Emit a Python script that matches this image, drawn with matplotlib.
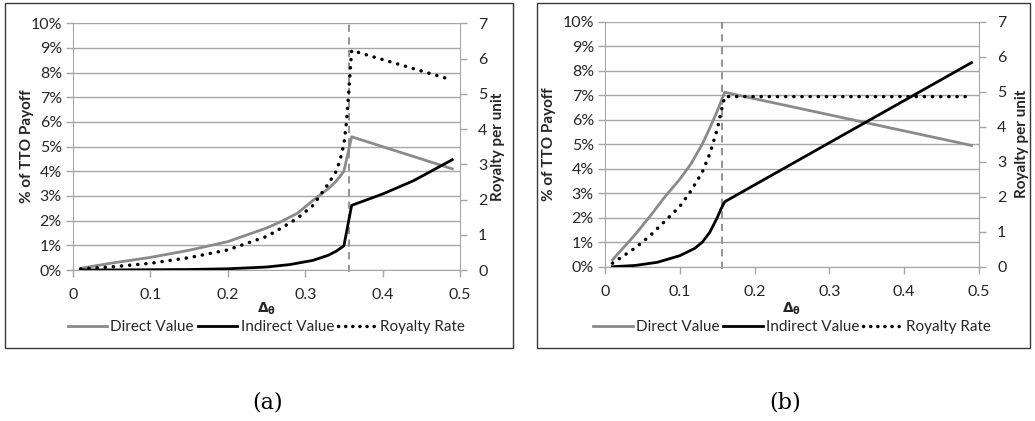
import matplotlib
matplotlib.use("Agg")
import matplotlib.pyplot as plt
from matplotlib.patches import Rectangle
from matplotlib.lines import Line2D

# ---- panel (a) ----
x_direct_a = [0.01, 0.05, 0.10, 0.15, 0.20, 0.25, 0.27, 0.29, 0.31, 0.33, 0.34, 0.35, 0.36, 0.49]
direct_a = [0.07, 0.28, 0.51, 0.80, 1.15, 1.70, 1.98, 2.30, 2.82, 3.30, 3.60, 4.00, 5.40, 4.10]

x_indirect_a = [0.01, 0.10, 0.15, 0.20, 0.25, 0.28, 0.31, 0.33, 0.34, 0.35, 0.36, 0.40, 0.44, 0.49]
indirect_a = [0.00, 0.01, 0.02, 0.05, 0.12, 0.22, 0.39, 0.60, 0.76, 0.98, 2.62, 3.08, 3.62, 4.47]

x_royalty_a = [0.01, 0.05, 0.10, 0.15, 0.20, 0.25, 0.27, 0.29, 0.31, 0.33, 0.34, 0.345,
               0.35, 0.353, 0.356, 0.358, 0.36, 0.49]
royalty_a = [0.03, 0.09, 0.19, 0.35, 0.57, 0.95, 1.20, 1.47, 1.83, 2.45, 2.80, 3.12,
             3.57, 4.13, 4.97, 5.60, 6.23, 5.39]
threshold_a = 0.357

# ---- panel (b) ----
x_direct_b = [0.01, 0.04, 0.06, 0.08, 0.10, 0.115, 0.13, 0.14, 0.15, 0.16, 0.49]
direct_b = [0.28, 1.30, 2.05, 2.85, 3.57, 4.20, 5.00, 5.65, 6.35, 7.12, 4.95]

x_indirect_b = [0.01, 0.04, 0.07, 0.10, 0.12, 0.13, 0.14, 0.15, 0.155, 0.16, 0.49]
indirect_b = [0.00, 0.05, 0.18, 0.45, 0.75, 1.00, 1.40, 2.00, 2.35, 2.65, 8.33]

x_royalty_b = [0.01, 0.04, 0.06, 0.08, 0.10, 0.115, 0.13, 0.14, 0.15, 0.155, 0.16, 0.49]
royalty_b = [0.10, 0.53, 0.88, 1.30, 1.72, 2.17, 2.70, 3.22, 3.92, 4.41, 4.86, 4.86]
threshold_b = 0.157

pct_ticks = [0, 1, 2, 3, 4, 5, 6, 7, 8, 9, 10]
pct_labels = [f"{t}%" for t in pct_ticks]
royalty_ticks = [0, 1, 2, 3, 4, 5, 6, 7]
x_ticks = [0, 0.1, 0.2, 0.3, 0.4, 0.5]
x_labels = ["0", "0.1", "0.2", "0.3", "0.4", "0.5"]
series_names = ["Direct Value", "Indirect Value", "Royalty Rate"]
left_label = "% of TTO Payoff"
right_label = "Royalty per unit"

GRID = "#a6a6a6"
GRAY_LINE = "#8a8a8a"
TEXT = "#262626"
FONT = "Lato"

plt.rcParams["font.family"] = [FONT, "DejaVu Sans"]
plt.rcParams["font.size"] = 11

W, H = 1035, 421
fig = plt.figure(figsize=(W / 100, H / 100), dpi=100)


def fx(px):
    return px / W


def fy(py):
    return 1 - py / H


dot_style = (0, (0.05, 2.3))


def panel(ax_rect, box_rect, caption, cap_x, lab_x, xd, yd, xi, yi, xr, yr, thr):
    # frame around the panel
    bx0, by0, bx1, by1 = box_rect
    fig.patches.append(Rectangle((fx(bx0), fy(by1)), fx(bx1 - bx0), (by1 - by0) / H,
                                 transform=fig.transFigure, fill=False,
                                 edgecolor="#3a3a3a", lw=1.0))
    l, t, r, b = ax_rect
    ax = fig.add_axes([fx(l), fy(b), fx(r - l), (b - t) / H])
    ax2 = ax.twinx()

    ax.set_xlim(0, 0.5)
    ax.set_ylim(0, 10)
    ax2.set_ylim(0, 7)
    ax.set_yticks(pct_ticks)
    ax.set_yticklabels(pct_labels)
    ax.set_xticks(x_ticks)
    ax.set_xticklabels(x_labels)
    ax2.set_yticks(royalty_ticks)

    ax.grid(axis="y", color=GRID, lw=1.0)
    ax.set_axisbelow(True)
    for s in ["top", "right"]:
        ax.spines[s].set_visible(False)
    ax2.spines["top"].set_visible(False)
    ax2.spines["left"].set_visible(False)
    ax2.spines["bottom"].set_visible(False)
    ax.spines["left"].set_color(GRID)
    ax.spines["bottom"].set_color(GRID)
    ax2.spines["right"].set_color(GRID)

    ax.tick_params(axis="both", colors=GRID, labelcolor=TEXT, length=5, width=1.0,
                   labelsize=11.5)
    ax.tick_params(axis="x", pad=8)
    ax.tick_params(axis="y", pad=3)
    ax2.tick_params(axis="y", colors=GRID, labelcolor=TEXT, length=5, width=1.0,
                    labelsize=11.5, pad=8)

    fig.text(fx(lab_x[0]), fy((t + b) / 2), left_label, rotation=90, ha="center",
             va="center", fontweight="bold", color=TEXT, fontsize=11)
    fig.text(fx(lab_x[1]), fy((t + b) / 2), right_label, rotation=90, ha="center",
             va="center", fontweight="bold", color=TEXT, fontsize=11)
    fig.text(fx((l + r) / 2), fy(309), r"$\mathbf{\Delta_{\theta}}$", ha="center",
             va="center", color=TEXT, fontsize=10)

    ax.plot([thr, thr], [-0.1, 10], color=GRAY_LINE, lw=1.3, ls=(0, (4, 3)),
            zorder=2, clip_on=False)
    ax.plot(xd, yd, color=GRAY_LINE, lw=2.0, zorder=3, solid_joinstyle="round")
    ax.plot(xi, yi, color="black", lw=2.0, zorder=3, solid_joinstyle="round")
    ax2.plot(xr, yr, color="black", lw=2.5, ls=dot_style, dash_capstyle="round",
             zorder=3)

    handles = [
        Line2D([], [], color=GRAY_LINE, lw=2.0),
        Line2D([], [], color="black", lw=2.0),
        Line2D([], [], color="black", lw=2.5, ls=(0, (0.05, 2.0)), dash_capstyle="round"),
    ]
    legend_y = -(327 - b) / (b - t)
    leg = ax.legend(handles, series_names, loc="center",
                    bbox_to_anchor=(0.5, legend_y), ncol=3, frameon=False,
                    handlelength=2.6, handletextpad=0.2, columnspacing=0.25,
                    fontsize=11, borderaxespad=0)
    for txt in leg.get_texts():
        txt.set_color(TEXT)

    fig.text(fx(cap_x), fy(402), caption, ha="center", va="center",
             fontsize=16, family="DejaVu Serif")
    return ax, ax2


panel((73, 23.3, 460, 270), (5, 3, 513, 348), "(a)", 268, (27, 498),
      x_direct_a, direct_a, x_indirect_a, indirect_a, x_royalty_a, royalty_a, threshold_a)
panel((605, 21.7, 979, 266.7), (537, 3, 1030, 348), "(b)", 785, (549, 1022),
      x_direct_b, direct_b, x_indirect_b, indirect_b, x_royalty_b, royalty_b, threshold_b)

fig.savefig("out.png", dpi=100)
